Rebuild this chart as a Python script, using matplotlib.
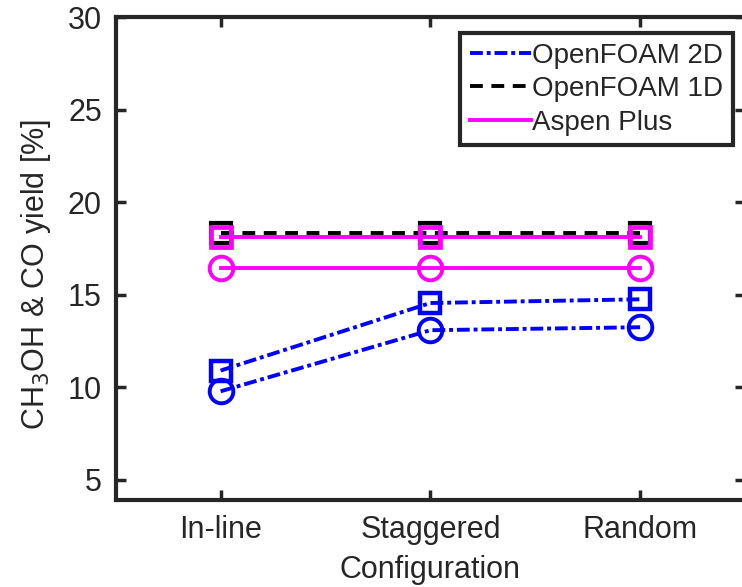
import matplotlib.pyplot as plt
from matplotlib.lines import Line2D

plt.rcParams['font.family'] = ['Liberation Sans', 'DejaVu Sans']

# data
configs = ['In-line', 'Staggered', 'Random']
of2d_sq = [10.9, 14.55, 14.75]
of2d_ci = [9.78, 13.08, 13.24]
of1d_sq = [18.33, 18.33, 18.33]
aspen_sq = [18.13, 18.13, 18.13]
aspen_ci = [16.42, 16.42, 16.42]

x = [1, 2, 3]
lw = 2.8
dashdot = (3.3, 1.0, 1.0, 1.0)
dashed = (3.3, 2.2)
fig = plt.figure(figsize=(7.42, 5.87), dpi=100)
ax = fig.add_axes([0.156, 0.148, 0.848, 0.823])

ax.plot(x, of2d_sq, color='blue', lw=lw, dashes=dashdot, marker='s', ms=14,
        mfc='none', mew=3.2)
ax.plot(x, of2d_ci, color='blue', lw=lw, dashes=dashdot, marker='o', ms=17,
        mfc='none', mew=2.8)
ax.plot(x, of1d_sq, color='black', lw=lw, dashes=dashed, marker='s', ms=14,
        mfc='none', mew=3.0)
ax.plot(x, aspen_sq, color='magenta', lw=lw, ls='-', marker='s', ms=15,
        mfc='none', mew=3.4)
ax.plot(x, aspen_ci, color='magenta', lw=lw, ls='-', marker='o', ms=17,
        mfc='none', mew=2.8)

ax.set_xlim(0.5, 3.5)
ax.set_ylim(3.9, 30)
ax.set_xticks(x)
ax.set_xticklabels(configs)
ax.set_yticks([5, 10, 15, 20, 25, 30])
ax.tick_params(direction='in', length=7, width=2.5, labelsize=22, pad=11,
               top=True, right=True, colors='#262626')
ax.tick_params(axis='y', pad=10)
for s in ax.spines.values():
    s.set_linewidth(3)
    s.set_color('#262626')

ax.set_xlabel('Configuration', fontsize=22, color='#262626', labelpad=7)
ax.set_ylabel('CH$_3$OH & CO yield [%]', fontsize=22, color='#262626')
ax.yaxis.set_label_coords(-0.1, 0.468)

handles = [Line2D([], [], color='blue', lw=lw, dashes=dashdot),
           Line2D([], [], color='black', lw=lw, dashes=dashed),
           Line2D([], [], color='magenta', lw=lw)]
labels = ['OpenFOAM 2D', 'OpenFOAM 1D', 'Aspen Plus']
leg = ax.legend(handles, labels, loc='upper right', bbox_to_anchor=(0.981, 0.967),
                borderaxespad=0, fontsize=20, handlelength=2.2, handletextpad=0.05,
                labelspacing=0.27, borderpad=0.35, fancybox=False, framealpha=1)
leg.get_frame().set_edgecolor('#262626')
leg.get_frame().set_linewidth(3)
for t in leg.get_texts():
    t.set_color('#262626')

fig.savefig('out.png', dpi=100)
